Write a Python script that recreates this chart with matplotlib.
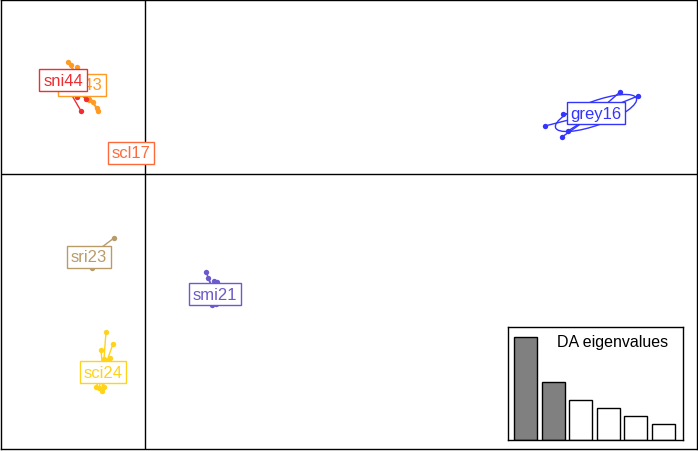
import matplotlib.pyplot as plt
from matplotlib.patches import Ellipse

plt.rcParams['font.family'] = ['Liberation Sans', 'DejaVu Sans']

# group labels, colours and centroids (LD1, LD2)
groups = ['grey16', 'smi21', 'sri23', 'sci24', 'scl17', 'sni43', 'sni44']
colors = ['#3434FF', '#6A5ACD', '#B99B68', '#FFD31A', '#FF6A3D', '#FF9B22', '#EE2E32']
cent_x = [22.55, 3.5, -2.8, -2.1, -0.7, -3.15, -4.1]
cent_y = [3.05, -6.0, -4.15, -9.9, 1.05, 4.45, 4.7]

# individual scores per group
pts_x = {
    'grey16': [23.75, 24.65, 20.9, 20.0, 20.85, 21.15],
    'smi21': [3.05, 3.15, 3.45, 3.6, 3.35, 3.55],
    'sri23': [-1.55, -2.65],
    'sci24': [-1.95, -1.6, -2.2, -1.75, -2.05, -2.45, -2.3, -2.05, -2.15],
    'scl17': [-0.7],
    'sni43': [-3.85, -3.7, -3.4, -2.8, -2.6, -2.4, -2.35],
    'sni44': [-3.2, -3.4, -2.95],
}
pts_y = {
    'grey16': [4.1, 3.9, 3.0, 2.4, 1.85, 2.15],
    'smi21': [-4.9, -5.2, -5.35, -5.4, -6.55, -6.5],
    'sri23': [-3.2, -4.7],
    'sci24': [-7.9, -8.5, -8.8, -9.2, -9.25, -10.65, -10.7, -10.65, -10.85],
    'scl17': [1.05],
    'sni43': [5.6, 5.45, 5.35, 3.7, 3.6, 3.3, 3.15],
    'sni44': [3.15, 3.85, 3.75],
}

# inertia ellipse of grey16 (width, height, angle)
ell_grey16 = (4.3, 1.2, 20)

eig = [103, 58, 40, 32, 24, 16]
n_retained = 2

fig = plt.figure(figsize=(6.98, 4.52), dpi=100)
ax = fig.add_axes([1 / 698, 2 / 452, 696 / 698, 449 / 452])
ax.set_xlim(-7.2, 27.6)
ax.set_ylim(-13.75, 8.7)
ax.set_xticks([])
ax.set_yticks([])
for s in ax.spines.values():
    s.set_linewidth(1)
ax.axhline(0, color='black', lw=1, zorder=1)
ax.axvline(0, color='black', lw=1, zorder=1)

ax.add_patch(Ellipse((cent_x[0], cent_y[0]), ell_grey16[0], ell_grey16[1],
                     angle=ell_grey16[2], fill=False, ec=colors[0], lw=1, zorder=2))

for i, g in enumerate(groups):
    c = colors[i]
    for x, y in zip(pts_x[g], pts_y[g]):
        ax.plot([cent_x[i], x], [cent_y[i], y], color=c, lw=1, zorder=2)
    ax.scatter(pts_x[g], pts_y[g], s=15, color=c, zorder=3, linewidths=0)

for i, g in enumerate(groups):
    ax.text(cent_x[i], cent_y[i], g, color=colors[i], fontsize=12,
            ha='center', va='center', zorder=5 + i,
            bbox=dict(boxstyle='square,pad=0.22', fc='white', ec=colors[i], lw=1))

# eigenvalue inset
ins = fig.add_axes([508 / 698, 11 / 452, 175 / 698, 113 / 452])
bar_x = list(range(1, len(eig) + 1))
bar_cols = ['#808080' if k < n_retained else 'white' for k in range(len(eig))]
ins.bar(bar_x, eig, width=0.83, color=bar_cols, edgecolor='black', lw=1)
ins.set_xlim(0.366, 6.706)
ins.set_ylim(0, eig[0] * 113 / 103)
ins.set_xticks([])
ins.set_yticks([])
for s in ins.spines.values():
    s.set_linewidth(1)
ins.text(0.915, 0.87, 'DA eigenvalues', transform=ins.transAxes,
         ha='right', va='center', fontsize=11.5)

fig.savefig('out.png', dpi=100)
